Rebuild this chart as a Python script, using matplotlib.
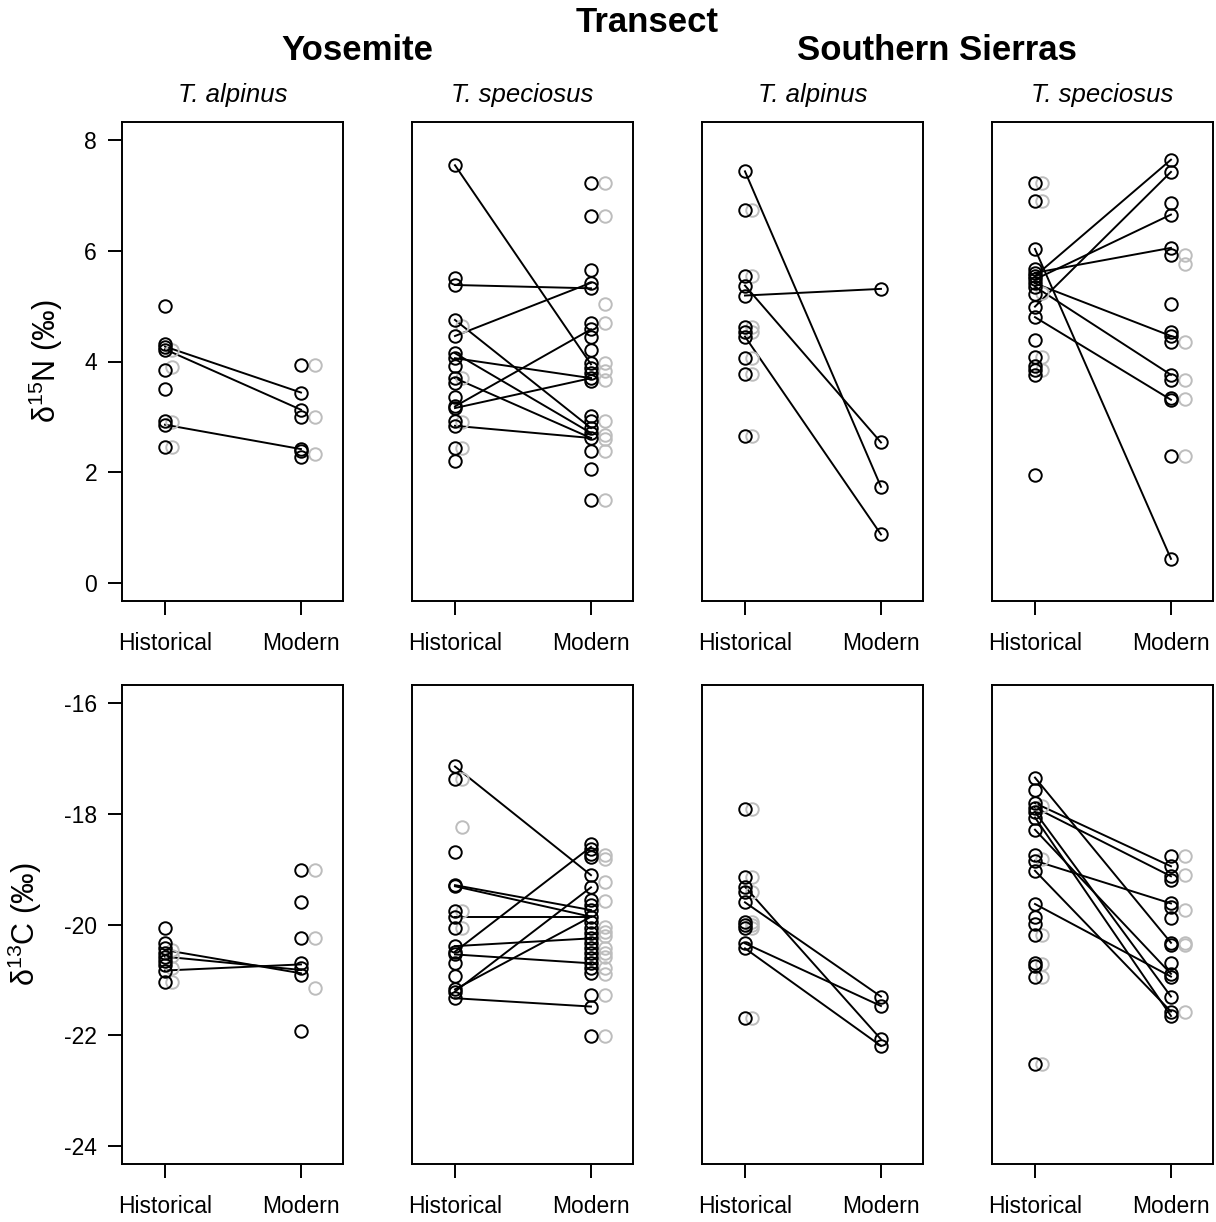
import matplotlib.pyplot as plt

plt.rcParams['font.family'] = ['Liberation Sans', 'DejaVu Sans']
plt.rcParams['mathtext.fontset'] = 'custom'
plt.rcParams['mathtext.rm'] = 'Liberation Sans'
plt.rcParams['axes.unicode_minus'] = False

groups = ['Historical', 'Modern']
regions = ['Yosemite', 'Southern Sierras']
species = ['T. alpinus', 'T. speciosus', 'T. alpinus', 'T. speciosus']

# d15N, Yosemite T. alpinus
n_ya_hist = [5.0, 4.32, 4.27, 4.21, 3.85, 3.5, 2.92, 2.86, 2.45]
n_ya_mod = [3.94, 3.44, 3.13, 3.0, 2.42, 2.38, 2.28]
n_ya_hist_gray = [4.21, 3.9, 2.9, 2.45]
n_ya_mod_gray = [3.94, 3.0, 2.33]
n_ya_pairs = [(4.27, 3.44), (4.22, 3.13), (2.86, 2.42)]

# d15N, Yosemite T. speciosus
n_ys_hist = [7.54, 5.5, 5.38, 4.75, 4.46, 4.15, 4.06, 3.91, 3.7, 3.61, 3.36,
             3.19, 3.16, 2.92, 2.84, 2.44, 2.2]
n_ys_mod = [7.22, 6.62, 5.65, 5.42, 5.32, 4.7, 4.58, 4.45, 4.21, 3.98, 3.88,
            3.79, 3.7, 3.64, 3.02, 2.92, 2.8, 2.71, 2.62, 2.38, 2.06, 1.51]
n_ys_hist_gray = [4.64, 3.7, 2.9, 2.44]
n_ys_mod_gray = [7.22, 6.62, 5.03, 4.69, 3.97, 3.82, 3.67, 2.92, 2.67, 2.61,
                 2.38, 1.51]
n_ys_pairs = [(7.54, 3.95), (5.38, 5.32), (4.46, 5.42), (4.75, 2.8),
              (4.06, 3.7), (4.15, 2.71), (3.7, 2.62), (3.19, 4.58),
              (3.16, 3.7), (2.84, 2.62)]

# d15N, Southern Sierras T. alpinus
n_sa_hist = [7.43, 6.73, 5.54, 5.37, 5.19, 4.63, 4.54, 4.45, 4.06, 3.77, 2.65]
n_sa_mod = [5.31, 2.54, 1.74, 0.88]
n_sa_hist_gray = [6.73, 5.54, 4.63, 4.54, 4.06, 3.77, 2.65]
n_sa_mod_gray = []
n_sa_pairs = [(7.43, 1.74), (5.19, 5.31), (5.37, 2.54), (4.45, 0.88)]

# d15N, Southern Sierras T. speciosus
n_ss_hist = [7.22, 6.9, 6.03, 5.66, 5.6, 5.54, 5.48, 5.41, 5.35, 5.22, 4.99,
             4.8, 4.39, 4.08, 3.92, 3.84, 3.75, 1.96]
n_ss_mod = [7.64, 7.42, 6.86, 6.65, 6.05, 5.92, 5.04, 4.54, 4.46, 4.36, 3.76,
            3.67, 3.34, 3.31, 2.29, 0.44]
n_ss_hist_gray = [7.22, 6.9, 5.23, 4.08, 3.84]
n_ss_mod_gray = [5.93, 5.75, 4.36, 3.67, 3.32, 2.29]
n_ss_pairs = [(5.54, 7.64), (4.99, 7.42), (5.48, 6.65), (5.6, 6.05),
              (5.41, 4.46), (5.35, 3.76), (4.8, 3.31), (6.03, 0.44)]

# d13C, Yosemite T. alpinus
c_ya_hist = [-20.06, -20.33, -20.43, -20.51, -20.58, -20.66, -20.73, -20.83,
             -21.03]
c_ya_mod = [-19.01, -19.6, -20.25, -20.7, -20.79, -20.91, -21.93]
c_ya_hist_gray = [-20.46, -20.57, -20.79, -21.03]
c_ya_mod_gray = [-19.01, -20.25, -21.15]
c_ya_pairs = [(-20.46, -20.88), (-20.58, -20.82), (-20.83, -20.72)]

# d13C, Yosemite T. speciosus
c_ys_hist = [-17.15, -17.37, -18.69, -19.29, -19.31, -19.75, -19.86, -20.07,
             -20.39, -20.49, -20.54, -20.69, -20.93, -21.17, -21.21, -21.33]
c_ys_mod = [-18.54, -18.63, -18.72, -18.78, -19.11, -19.32, -19.55, -19.65,
            -19.74, -19.86, -19.95, -20.07, -20.16, -20.25, -20.34, -20.43,
            -20.52, -20.61, -20.7, -20.79, -20.88, -21.27, -21.48, -22.01]
c_ys_hist_gray = [-17.37, -18.24, -19.75, -20.07]
c_ys_mod_gray = [-18.75, -18.81, -19.23, -19.57, -20.04, -20.13, -20.21,
                 -20.43, -20.51, -20.59, -20.79, -20.89, -21.27, -22.01]
c_ys_pairs = [(-17.15, -19.11), (-19.29, -19.74), (-19.31, -19.86),
              (-19.86, -19.86), (-20.49, -18.6), (-20.39, -20.25),
              (-20.54, -20.7), (-21.21, -19.33), (-21.17, -19.86),
              (-21.33, -21.48)]

# d13C, Southern Sierras T. alpinus
c_sa_hist = [-17.92, -19.15, -19.32, -19.41, -19.6, -19.95, -20.01, -20.07,
             -20.34, -20.43, -21.69]
c_sa_mod = [-21.3, -21.47, -22.07, -22.19]
c_sa_hist_gray = [-17.92, -19.15, -19.41, -19.95, -20.01, -20.07, -21.69]
c_sa_mod_gray = []
c_sa_pairs = [(-19.32, -22.07), (-19.6, -21.3), (-20.34, -21.47),
              (-20.43, -22.19)]

# d13C, Southern Sierras T. speciosus
c_ss_hist = [-17.35, -17.57, -17.81, -17.89, -17.97, -18.07, -18.29, -18.75,
             -18.85, -19.03, -19.63, -19.86, -19.99, -20.19, -20.7, -20.75,
             -20.95, -22.52]
c_ss_mod = [-18.77, -18.95, -19.13, -19.19, -19.62, -19.69, -19.89, -20.33,
            -20.37, -20.7, -20.89, -20.94, -21.3, -21.57, -21.65]
c_ss_hist_gray = [-17.87, -18.81, -20.19, -20.71, -20.95, -22.52]
c_ss_mod_gray = [-18.77, -19.11, -19.73, -20.33, -20.37, -21.57]
c_ss_pairs = [(-17.35, -20.33), (-17.81, -18.95), (-17.89, -19.13),
              (-17.97, -21.3), (-18.29, -20.89), (-18.07, -21.65),
              (-18.85, -19.62), (-19.03, -21.57), (-19.63, -20.94)]

panels = [
    [(n_ya_hist, n_ya_mod, n_ya_hist_gray, n_ya_mod_gray, n_ya_pairs),
     (n_ys_hist, n_ys_mod, n_ys_hist_gray, n_ys_mod_gray, n_ys_pairs),
     (n_sa_hist, n_sa_mod, n_sa_hist_gray, n_sa_mod_gray, n_sa_pairs),
     (n_ss_hist, n_ss_mod, n_ss_hist_gray, n_ss_mod_gray, n_ss_pairs)],
    [(c_ya_hist, c_ya_mod, c_ya_hist_gray, c_ya_mod_gray, c_ya_pairs),
     (c_ys_hist, c_ys_mod, c_ys_hist_gray, c_ys_mod_gray, c_ys_pairs),
     (c_sa_hist, c_sa_mod, c_sa_hist_gray, c_sa_mod_gray, c_sa_pairs),
     (c_ss_hist, c_ss_mod, c_ss_hist_gray, c_ss_mod_gray, c_ss_pairs)],
]
ylims = [(-0.32, 8.32), (-24.32, -15.68)]
yticks = [[0, 2, 4, 6, 8], [-24, -22, -20, -18, -16]]
ylabels = [r'$\mathrm{\delta^{15}}$N (‰)', r'$\mathrm{\delta^{13}}$C (‰)']

W, H = 1216, 1222
fig = plt.figure(figsize=(W / 100, H / 100), dpi=100)

lefts = [122, 412, 702, 992]
tops = [122, 685]
pw, ph = 221, 479
circ = dict(marker='o', ls='none', mfc='none', ms=9, mew=1.4)

for r in range(2):
    for c in range(4):
        ax = fig.add_axes([lefts[c] / W, 1 - (tops[r] + ph) / H, pw / W, ph / H])
        hist, mod, hg, mg, pairs = panels[r][c]
        for h, m in pairs:
            ax.plot([1, 2], [h, m], color='black', lw=1.4)
        ax.plot([1.05] * len(hg), hg, mec='#bdbdbd', **circ)
        ax.plot([2.1] * len(mg), mg, mec='#bdbdbd', **circ)
        ax.plot([1] * len(hist), hist, mec='black', **circ)
        ax.plot([2] * len(mod), mod, mec='black', **circ)
        ax.set_xlim(0.684, 2.309)
        ax.set_ylim(*ylims[r])
        ax.set_xticks([1, 2])
        ax.set_xticklabels(groups)
        for s in ax.spines.values():
            s.set_linewidth(1.4)
        ax.tick_params(axis='x', length=10, width=1.4, pad=12, labelsize=16.5)
        if c == 0:
            ax.set_yticks(yticks[r])
            ax.tick_params(axis='y', length=10, width=1.4, pad=8, labelsize=16.5)
            ax.set_ylabel(ylabels[r], fontsize=22, labelpad=14)
        else:
            ax.set_yticks([])
        if r == 0:
            fig.text((lefts[c] + pw / 2) / W, 1 - 95 / H, species[c],
                     ha='center', va='center', fontsize=18.5, style='italic')

fig.text(647 / W, 1 - 22 / H, 'Transect', ha='center', va='center',
         fontsize=25, weight='bold')
fig.text(357 / W, 1 - 50 / H, regions[0], ha='center', va='center',
         fontsize=25, weight='bold')
fig.text(937 / W, 1 - 50 / H, regions[1], ha='center', va='center',
         fontsize=25, weight='bold')

fig.savefig('out.png', dpi=100)
